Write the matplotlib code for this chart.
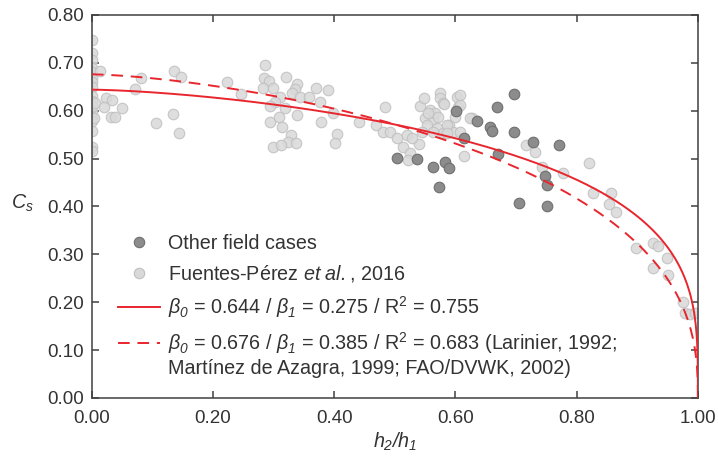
"""Submergence coefficient Cs versus h2/h1 with fitted curves."""

import numpy as np
from matplotlib import pyplot as plt
from matplotlib.lines import Line2D

plt.rcParams['font.family'] = ['Liberation Sans', 'DejaVu Sans']
plt.rcParams['mathtext.fontset'] = 'custom'
plt.rcParams['mathtext.rm'] = 'Liberation Sans'
plt.rcParams['mathtext.it'] = 'Liberation Sans:italic'
# sf is used for italic digits (mathtext puts digits of \mathit in upright)
plt.rcParams['mathtext.sf'] = 'Liberation Sans:italic'

# Fuentes-Perez et al., 2016 (light points)
fuentes_x = [0, 0, 0, 0, 0, 0, 0, 0, 0, 0, 0, 0, 0, 0, 0, 0, 0,
             0.013, 0.005, 0.004, 0.024, 0.033, 0.02, 0.031, 0.038, 0.05, 0.071, 0.081, 0.105, 0.134,
             0.135, 0.147, 0.144, 0.223, 0.246,
             0.285, 0.284, 0.292, 0.282, 0.299, 0.32, 0.338, 0.335, 0.33, 0.343, 0.37, 0.39, 0.358,
             0.376, 0.31, 0.302, 0.294, 0.318, 0.338, 0.294, 0.309, 0.314, 0.378, 0.328, 0.323, 0.337,
             0.299, 0.312,
             0.404, 0.401, 0.398, 0.44, 0.483, 0.469, 0.48, 0.492, 0.503, 0.513, 0.525, 0.521, 0.54,
             0.52, 0.528,
             0.541, 0.548, 0.558, 0.574, 0.574, 0.55, 0.563, 0.553, 0.569, 0.59, 0.596, 0.579, 0.563,
             0.545, 0.602, 0.604,
             0.607, 0.607, 0.579, 0.599, 0.627, 0.586, 0.586, 0.607, 0.614, 0.581, 0.566, 0.571, 0.554,
             0.624,
             0.716, 0.731, 0.743, 0.777, 0.82, 0.827, 0.856, 0.853, 0.865,
             0.898, 0.926, 0.934, 0.949, 0.926, 0.95, 0.975, 0.979, 0.987, 0.995]
fuentes_cs = [0.748, 0.72, 0.705, 0.69, 0.68, 0.668, 0.66, 0.65, 0.63, 0.62, 0.612, 0.60, 0.587, 0.578,
              0.557, 0.525, 0.515,
              0.683, 0.616, 0.585, 0.626, 0.622, 0.608, 0.587, 0.587, 0.606, 0.645, 0.668, 0.575, 0.593,
              0.683, 0.67, 0.554, 0.66, 0.635,
              0.696, 0.668, 0.662, 0.647, 0.647, 0.67, 0.655, 0.645, 0.637, 0.629, 0.647, 0.643, 0.629,
              0.619, 0.629, 0.619, 0.61, 0.606, 0.591, 0.577, 0.587, 0.566, 0.577, 0.549, 0.535, 0.532,
              0.525, 0.528,
              0.551, 0.532, 0.595, 0.577, 0.608, 0.57, 0.555, 0.556, 0.543, 0.525, 0.512, 0.497, 0.531,
              0.549, 0.543,
              0.61, 0.626, 0.602, 0.637, 0.626, 0.585, 0.581, 0.57, 0.564, 0.57, 0.556, 0.553, 0.556,
              0.556, 0.629, 0.608,
              0.633, 0.612, 0.616, 0.587, 0.585, 0.57, 0.553, 0.556, 0.505, 0.614, 0.595, 0.587, 0.595,
              0.585,
              0.528, 0.514, 0.483, 0.47, 0.49, 0.429, 0.429, 0.405, 0.389,
              0.313, 0.324, 0.318, 0.292, 0.271, 0.257, 0.2, 0.178, 0.175, 0.178]

# other field cases (dark points)
field_x = [0.503, 0.536, 0.563, 0.583, 0.589, 0.573, 0.601, 0.668, 0.696, 0.635, 0.657, 0.66, 0.696,
           0.614, 0.728, 0.771, 0.67, 0.748, 0.751, 0.705, 0.751]
field_cs = [0.501, 0.499, 0.483, 0.493, 0.48, 0.44, 0.6, 0.608, 0.635, 0.579, 0.566, 0.558, 0.556,
            0.543, 0.535, 0.528, 0.51, 0.464, 0.445, 0.408, 0.401]

# fitted curves: Cs = beta0 * (1 - (h2/h1)^1.5)^beta1
fit_beta0 = [0.644, 0.676]
fit_beta1 = [0.275, 0.385]
fit_r2 = [0.755, 0.683]
villemonte_n = 1.5

x_ticks = [0.0, 0.2, 0.4, 0.6, 0.8, 1.0]
y_ticks = [0.0, 0.1, 0.2, 0.3, 0.4, 0.5, 0.6, 0.7, 0.8]

text_color = '#333333'
red = '#e8262d'
tick_size = 13.5
legend_size = 14.2


def fit_label(b0, b1, r2):
    return (r'$\beta_{\mathsf{0}}$ = ' + f'{b0:.3f}' + r' / $\beta_{\mathsf{1}}$ = ' + f'{b1:.3f}'
            + r' / R$^{2}$ = ' + f'{r2:.3f}')


fig = plt.figure(figsize=(7.18, 4.61), dpi=100)
ax = fig.add_axes([0.128, 0.1367, 0.844, 0.8308])

ax.scatter(fuentes_x, fuentes_cs, s=58, facecolor='#d9d9d9', edgecolor='#bfbfbf', linewidth=0.8,
           alpha=0.85, zorder=2)
ax.scatter(field_x, field_cs, s=58, facecolor='#8c8c8c', edgecolor='#6f6f6f', linewidth=0.8,
           zorder=3)

x_fit = np.concatenate([np.linspace(0, 0.99, 500), np.linspace(0.99, 1, 300)])
cs_solid = fit_beta0[0] * (1 - x_fit ** villemonte_n) ** fit_beta1[0]
cs_dashed = fit_beta0[1] * (1 - x_fit ** villemonte_n) ** fit_beta1[1]
ax.plot(x_fit, cs_solid, color=red, linewidth=1.4, zorder=4)
ax.plot(x_fit, cs_dashed, color=red, linewidth=1.4, linestyle=(0, (6, 4)), zorder=4)

ax.set_xlim(0, 1)
ax.set_ylim(0, 0.8)
ax.set_xticks(x_ticks)
ax.set_yticks(y_ticks)
ax.set_xticklabels([f'{v:.2f}' for v in x_ticks])
ax.set_yticklabels([f'{v:.2f}' for v in y_ticks])
ax.tick_params(direction='in', length=5, width=1.1, top=True, right=True, labelsize=tick_size,
               colors='#404040', labelcolor=text_color)
ax.tick_params(axis='x', pad=9)
ax.tick_params(axis='y', pad=6)
for spine in ax.spines.values():
    spine.set_color('#404040')
    spine.set_linewidth(1.1)

ax.set_xlabel(r'$h_{\mathsf{2}}\mathsf{/}h_{\mathsf{1}}$', fontsize=legend_size, color=text_color,
              labelpad=2)
ax.set_ylabel('$C_s$', fontsize=legend_size, color=text_color, rotation=0)
ax.yaxis.set_label_coords(-0.115, 0.48)

marker_kw = dict(linestyle='none', marker='o', markersize=7.5, markeredgewidth=0.8)
handles = [
    Line2D([], [], markerfacecolor='#8c8c8c', markeredgecolor='#6f6f6f', **marker_kw),
    Line2D([], [], markerfacecolor='#d9d9d9', markeredgecolor='#bfbfbf', **marker_kw),
    Line2D([], [], color=red, linewidth=1.4),
    Line2D([], [], color=red, linewidth=1.4, linestyle=(0, (6, 4))),
]
labels = [
    'Other field cases',
    r'Fuentes-Pérez $\mathsf{et\ al.}\mathrm{,}$ 2016',
    fit_label(fit_beta0[0], fit_beta1[0], fit_r2[0]),
    fit_label(fit_beta0[1], fit_beta1[1], fit_r2[1]) + ' (Larinier, 1992;',
]
leg = ax.legend(handles, labels, loc='upper left', bbox_to_anchor=(0.013, 0.475), frameon=False,
                fontsize=legend_size, labelcolor=text_color, handlelength=2.15, handletextpad=0.4,
                labelspacing=0.52)

# second line of the dashed label, hung under the last legend text (drawn after the legend)
ax.annotate('Martínez de Azagra, 1999; FAO/DVWK, 2002)', xy=(0, 0), xycoords=leg.get_texts()[3],
            xytext=(0, -2), textcoords='offset points', ha='left', va='top',
            fontsize=legend_size, color=text_color, zorder=10)

plt.savefig('out.png', dpi=100)
